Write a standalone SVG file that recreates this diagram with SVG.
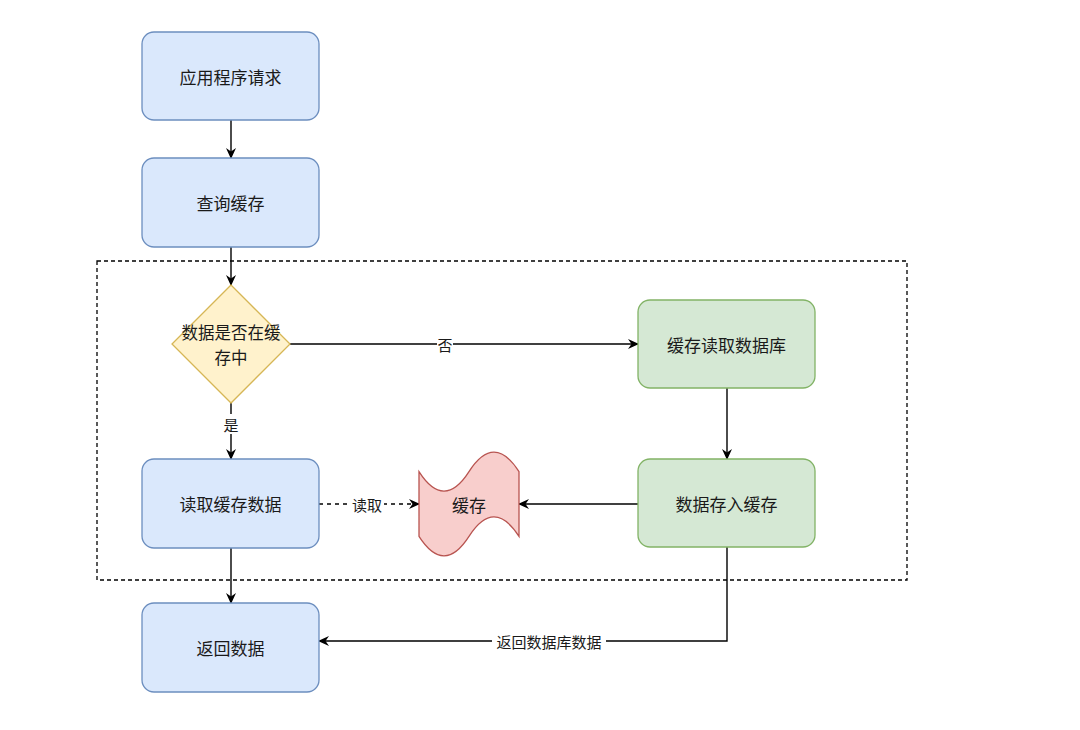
<svg xmlns="http://www.w3.org/2000/svg" width="1080" height="730" viewBox="0 0 1080 730">
<defs>
<marker id="arr" viewBox="0 0 11 10" refX="10" refY="5" markerWidth="11" markerHeight="10" markerUnits="userSpaceOnUse" orient="auto">
<path d="M0,0 L11,5 L0,10 L3.5,5 Z" fill="#000"/>
</marker>
</defs>
<style>
.blue{fill:#dae8fc;stroke:#6c8ebf;stroke-width:1.3}
.green{fill:#d5e8d4;stroke:#82b366;stroke-width:1.3}
.yellow{fill:#fff2cc;stroke:#d6b656;stroke-width:1.3}
.red{fill:#f8cecc;stroke:#b85450;stroke-width:1.3}
.t{font-family:"Noto Sans CJK SC","Liberation Sans",sans-serif;font-size:17px;fill:#1a1a1a;text-anchor:middle;dominant-baseline:central}
.d{font-size:16.5px}
.lbl{font-family:"Noto Sans CJK SC","Liberation Sans",sans-serif;font-size:15px;fill:#1a1a1a;text-anchor:middle;dominant-baseline:central}
.e{fill:none;stroke:#000;stroke-width:1.4}
</style>
<rect width="1080" height="730" fill="#fff"/>
<rect id="group-frame" x="97" y="261" width="810" height="319" fill="none" stroke="#000" stroke-width="1.3" stroke-dasharray="4 3"/>
<g id="connectors">
<path class="e" d="M231,120 L231,158" marker-end="url(#arr)"/>
<path class="e" d="M231,247 L231,285" marker-end="url(#arr)"/>
<path class="e" d="M231,403 L231,459" marker-end="url(#arr)"/>
<path class="e" d="M231,548 L231,603" marker-end="url(#arr)"/>
<path class="e" d="M290,344 L638,344" marker-end="url(#arr)"/>
<path class="e" d="M727,388 L727,459" marker-end="url(#arr)"/>
<path class="e" d="M638,504 L519,504" marker-end="url(#arr)"/>
<path class="e" d="M319,504 L419,504" stroke-dasharray="4 4" marker-end="url(#arr)"/>
<path class="e" d="M727,547 L727,641 L319,641" marker-end="url(#arr)"/>
<rect x="437" y="334" width="16" height="20" fill="#fff"/>
<text class="lbl" x="445" y="344">否</text>
<rect x="223" y="414" width="16" height="20" fill="#fff"/>
<text class="lbl" x="231" y="424">是</text>
<rect x="350" y="494" width="34" height="20" fill="#fff"/>
<text class="lbl" x="367" y="504">读取</text>
<rect x="492" y="631" width="114" height="20" fill="#fff"/>
<text class="lbl" x="549" y="641">返回数据库数据</text>
</g>
<g id="node-request">
<rect class="blue" x="142" y="32" width="177" height="88" rx="12"/>
<text class="t" x="230.5" y="76">应用程序请求</text>
</g>
<g id="node-query">
<rect class="blue" x="142" y="158" width="177" height="89" rx="12"/>
<text class="t" x="230.5" y="202.5">查询缓存</text>
</g>
<g id="node-decision">
<path class="yellow" d="M231,285 L290,344 L231,403 L172,344 Z"/>
<text class="t d" x="231" y="332"><tspan x="231" y="332">数据是否在缓</tspan><tspan x="231" dy="24.5">存中</tspan></text>
</g>
<g id="node-read-cache">
<rect class="blue" x="142" y="459" width="177" height="89" rx="12"/>
<text class="t" x="230.5" y="503.5">读取缓存数据</text>
</g>
<g id="node-return">
<rect class="blue" x="142" y="603" width="177" height="89" rx="12"/>
<text class="t" x="230.5" y="647.5">返回数据</text>
</g>
<g id="node-read-db">
<rect class="green" x="638" y="300" width="177" height="88" rx="12"/>
<text class="t" x="726.5" y="344">缓存读取数据库</text>
</g>
<g id="node-store">
<rect class="green" x="638" y="459" width="177" height="88" rx="12"/>
<text class="t" x="726.5" y="503">数据存入缓存</text>
</g>
<g id="node-cache">
<path class="red" d="M419,471.6 Q444,510.5 469,471.6 Q494,432.7 519,471.6 L519,536.4 Q494,497.5 469,536.4 Q444,575.3 419,536.4 Z"/>
<text class="t" x="469" y="504">缓存</text>
</g>
</svg>
